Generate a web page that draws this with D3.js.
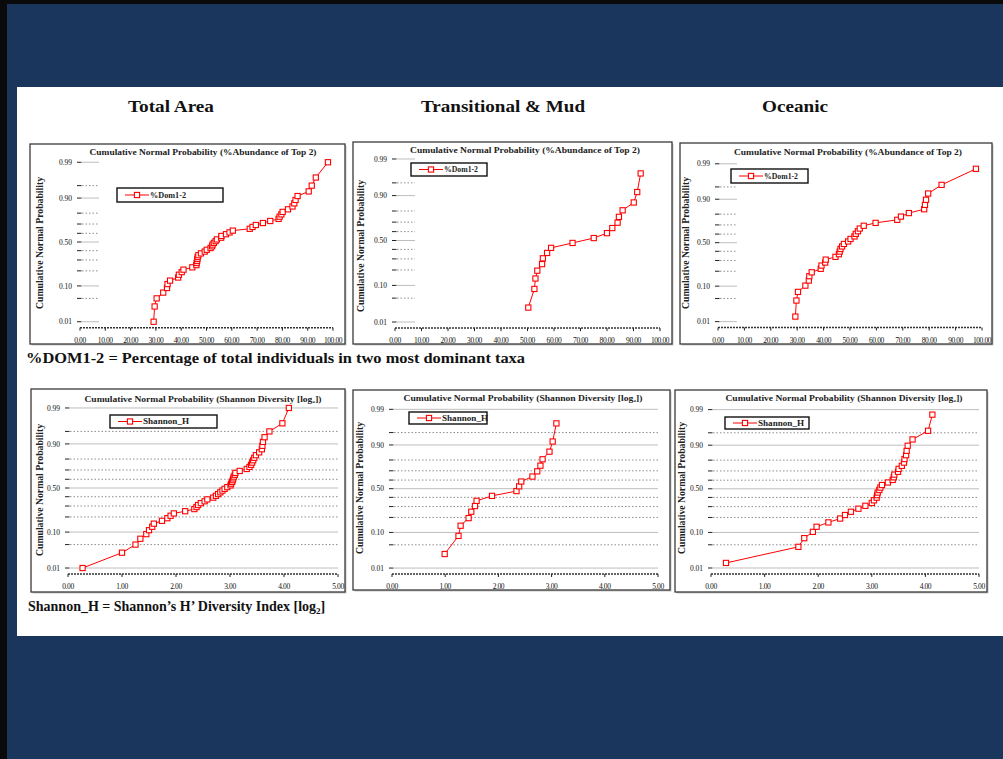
<html>
<head>
<meta charset="utf-8">
<script src="https://cdn.jsdelivr.net/npm/d3@7"></script>
<style>
  body { margin: 0; background: #1b365d; }
  svg { display: block; }
  text { font-family: "Liberation Serif", "Times New Roman", serif; }
</style>
<script>

// probability levels on the y axis
const probMajor = [0.01, 0.10, 0.50, 0.90, 0.99];
const probMinor = [0.05, 0.20, 0.30, 0.40, 0.60, 0.70, 0.80, 0.95];
const probLabels = ['0.01', '0.10', '0.50', '0.90', '0.99'];

// x ticks
const domTicks = [0, 10, 20, 30, 40, 50, 60, 70, 80, 90, 100];
const shanTicks = [0, 1, 2, 3, 4, 5];

const headings = ['Total Area', 'Transitional & Mud', 'Oceanic'];

// plotting positions
const prob50 = [0.01, 0.03, 0.05, 0.07, 0.09, 0.11, 0.13, 0.15, 0.17, 0.19,
  0.21, 0.23, 0.25, 0.27, 0.29, 0.31, 0.33, 0.35, 0.37, 0.39,
  0.41, 0.43, 0.45, 0.47, 0.49, 0.51, 0.53, 0.55, 0.57, 0.59,
  0.61, 0.63, 0.65, 0.67, 0.69, 0.71, 0.73, 0.75, 0.77, 0.79,
  0.81, 0.83, 0.85, 0.87, 0.89, 0.91, 0.93, 0.95, 0.97, 0.99];
const prob18 = [0.0278, 0.0833, 0.1389, 0.1944, 0.25, 0.3056, 0.3611, 0.4167, 0.4722,
  0.5278, 0.5833, 0.6389, 0.6944, 0.75, 0.8056, 0.8611, 0.9167, 0.9722];
const prob34 = [0.0147, 0.0441, 0.0735, 0.1029, 0.1324, 0.1618, 0.1912, 0.2206, 0.25,
  0.2794, 0.3088, 0.3382, 0.3676, 0.3971, 0.4265, 0.4559, 0.4853, 0.5147, 0.5441,
  0.5735, 0.6029, 0.6324, 0.6618, 0.6912, 0.7206, 0.75, 0.7794, 0.8088, 0.8382,
  0.8676, 0.8971, 0.9265, 0.9559, 0.9853];

// %Dom1-2 values
const totalDom = [29.1, 29.5, 30.3, 32.9, 34.4, 34.6, 35.6, 38.8, 39.1, 40.2,
  40.9, 44.4, 46.0, 46.1, 46.3, 46.4, 46.5, 46.8, 47.8, 49.3,
  50.1, 51.6, 52.2, 52.4, 52.9, 53.6, 54.1, 55.8, 55.9, 57.7,
  59.1, 60.4, 67.1, 68.2, 69.5, 72.3, 75.2, 78.5, 78.9, 79.6,
  80.1, 82.2, 84.0, 84.7, 85.2, 86.0, 90.4, 91.6, 93.2, 98.0];
const transDom = [50.3, 52.6, 53.0, 53.7, 55.5, 55.8, 57.4, 58.9, 67.0,
  75.0, 80.0, 82.0, 84.0, 84.5, 85.9, 90.1, 91.4, 92.7];
const oceanDom = [29.3, 29.7, 30.3, 33.1, 34.4, 34.6, 35.5, 38.9, 39.2, 40.6,
  40.8, 44.5, 45.8, 46.1, 46.4, 47.0, 47.7, 49.3, 50.2, 51.7,
  52.2, 53.0, 53.7, 55.2, 59.7, 67.9, 69.3, 72.3, 78.1, 78.4,
  78.8, 79.6, 84.7, 97.7];

// Shannon_H values
const totalShan = [0.27, 1.00, 1.25, 1.34, 1.45, 1.50, 1.56, 1.59, 1.74, 1.84,
  1.90, 1.96, 2.17, 2.34, 2.38, 2.41, 2.46, 2.53, 2.58, 2.69,
  2.74, 2.78, 2.82, 2.86, 2.90, 2.95, 3.01, 3.02, 3.04, 3.05,
  3.06, 3.07, 3.09, 3.10, 3.18, 3.31, 3.36, 3.39, 3.41, 3.43,
  3.45, 3.48, 3.54, 3.59, 3.60, 3.61, 3.64, 3.73, 3.97, 4.09];
const transShan = [0.99, 1.25, 1.29, 1.44, 1.49, 1.56, 1.59, 1.88, 2.34,
  2.39, 2.43, 2.64, 2.73, 2.79, 2.83, 2.96, 3.02, 3.09];
const oceanShan = [0.28, 1.63, 1.74, 1.90, 1.97, 2.19, 2.41, 2.50, 2.61, 2.75,
  2.88, 3.00, 3.04, 3.09, 3.10, 3.11, 3.14, 3.16, 3.19, 3.30,
  3.39, 3.41, 3.42, 3.49, 3.50, 3.56, 3.60, 3.61, 3.64, 3.65,
  3.67, 3.76, 4.05, 4.13];

// inverse normal cdf (Acklam)
function probit(p) {
  const a = [-39.69683028665376, 220.9460984245205, -275.9285104469687, 138.3577518672690, -30.66479806614716, 2.506628277459239];
  const b = [-54.47609879822406, 161.5858368580409, -155.6989798598866, 66.80131188771972, -13.28068155288572];
  const c = [-0.007784894002430293, -0.3223964580411365, -2.400758277161838, -2.549732539343734, 4.374664141464968, 2.938163982698783];
  const d = [0.007784695709041462, 0.3224671290700398, 2.445134137142996, 3.754408661907416];
  const pl = 0.02425;
  let q, r;
  if (p < pl) {
    q = Math.sqrt(-2 * Math.log(p));
    return (((((c[0]*q+c[1])*q+c[2])*q+c[3])*q+c[4])*q+c[5]) / ((((d[0]*q+d[1])*q+d[2])*q+d[3])*q+1);
  }
  if (p > 1 - pl) {
    q = Math.sqrt(-2 * Math.log(1 - p));
    return -(((((c[0]*q+c[1])*q+c[2])*q+c[3])*q+c[4])*q+c[5]) / ((((d[0]*q+d[1])*q+d[2])*q+d[3])*q+1);
  }
  q = p - 0.5; r = q * q;
  return (((((a[0]*r+a[1])*r+a[2])*r+a[3])*r+a[4])*r+a[5])*q / (((((b[0]*r+b[1])*r+b[2])*r+b[3])*r+b[4])*r+1);
}

const domTitle = 'Cumulative Normal Probability (%Abundance of Top 2)';
const shanTitle = 'Cumulative Normal Probability (Shannon Diversity [log\u2082])';

const panels = [
  {xs: totalDom, ps: prob50, ticks: domTicks, fmt: d3.format('.2f'), title: domTitle, titleX: 203, titleY: 155, titleW: 227,
   frame: [30, 144, 345, 344], xr: [80, 333], yr: [327.7, 156.3], grid: 19, yl: [43, 243],
   leg: [117, 188, 223, 202], name: '%Dom1-2', nameW: 36},
  {xs: transDom, ps: prob18, ticks: domTicks, fmt: d3.format('.2f'), title: domTitle, titleX: 525, titleY: 153, titleW: 230,
   frame: [353, 142, 672, 344], xr: [395, 660], yr: [328.1, 152.9], grid: 20, yl: [364, 246],
   leg: [411, 163, 487, 176], name: '%Dom1-2', nameW: 34},
  {xs: oceanDom, ps: prob34, ticks: domTicks, fmt: d3.format('.2f'), title: domTitle, titleX: 848, titleY: 155, titleW: 228,
   frame: [680, 143, 992, 344], xr: [718, 982], yr: [327.5, 157.9], grid: 19, yl: [689, 243],
   leg: [731, 169, 808, 183], name: '%Dom1-2', nameW: 34},
  {xs: totalShan, ps: prob50, ticks: shanTicks, fmt: d3.format('.2f'), title: shanTitle, titleX: 203, titleY: 402, titleW: 237,
   frame: [31, 389, 345, 592], xr: [68, 338], yr: [574, 402], grid: null, yl: [43, 490],
   leg: [110, 415, 217, 428], name: 'Shannon_H', nameW: 46},
  {xs: transShan, ps: prob18, ticks: shanTicks, fmt: d3.format('.2f'), title: shanTitle, titleX: 523, titleY: 401, titleW: 239,
   frame: [353, 390, 670, 590], xr: [392, 658], yr: [574, 403.4], grid: null, yl: [363, 488],
   leg: [409, 412, 487, 424], name: 'Shannon_H', nameW: 46},
  {xs: oceanShan, ps: prob34, ticks: shanTicks, fmt: d3.format('.2f'), title: shanTitle, titleX: 844, titleY: 401, titleW: 237,
   frame: [675, 390, 987, 592], xr: [711, 979], yr: [573.9, 403.7], grid: null, yl: [685, 488],
   leg: [725, 417, 809, 429], name: 'Shannon_H', nameW: 46}
];

function drawPanel(svg, c) {
  const g = svg.append('g');
  const x = d3.scaleLinear().domain([c.ticks[0], c.ticks[c.ticks.length - 1]]).range(c.xr);
  const z = d3.scaleLinear().domain([-2.5, 2.5]).range(c.yr);
  const y = p => z(probit(p));
  const [fx0, fy0, fx1, fy1] = c.frame;

  g.append('rect').attr('x', fx0 + 1.5).attr('y', fy0 + 1.5).attr('width', fx1 - fx0).attr('height', fy1 - fy0)
    .attr('fill', '#c8c8c8');
  g.append('rect').attr('x', fx0).attr('y', fy0).attr('width', fx1 - fx0).attr('height', fy1 - fy0)
    .attr('fill', '#fff').attr('stroke', '#3a3a3a').attr('stroke-width', 1.3);

  g.append('text').attr('x', c.titleX).attr('y', c.titleY).attr('text-anchor', 'middle')
    .attr('font-size', 7.5).attr('font-weight', 'bold').attr('fill', '#222')
    .attr('textLength', c.titleW).attr('lengthAdjust', 'spacingAndGlyphs').text(c.title);

  const gx0 = c.xr[0], gx1 = c.grid ? c.xr[0] + c.grid : c.xr[1];

  // gridlines
  g.selectAll('.minor').data(probMinor).join('line')
    .attr('x1', gx0 + 2).attr('x2', gx1).attr('y1', d => y(d)).attr('y2', d => y(d))
    .attr('stroke', '#8e8e8e').attr('stroke-width', 1).attr('stroke-dasharray', '1.5,2');
  g.selectAll('.major').data(probMajor).join('line')
    .attr('x1', gx0 + 2).attr('x2', gx1).attr('y1', d => y(d)).attr('y2', d => y(d))
    .attr('stroke', '#bdbdbd').attr('stroke-width', 1);

  // y ticks
  g.selectAll('.ytick').data(probMajor.concat(probMinor)).join('line')
    .attr('x1', gx0 - 3).attr('x2', gx0 + 1.5).attr('y1', d => y(d)).attr('y2', d => y(d))
    .attr('stroke', '#222').attr('stroke-width', 1);
  g.selectAll('.ylab').data(probMajor).join('text')
    .attr('x', gx0 - 8).attr('y', d => y(d) + 2.6).attr('text-anchor', 'end')
    .attr('font-size', 7.5).attr('fill', '#111').text((d, i) => probLabels[i]);

  // x axis
  const yb = c.yr[0];
  g.append('line').attr('x1', c.xr[0]).attr('x2', c.xr[1]).attr('y1', yb).attr('y2', yb)
    .attr('stroke', '#333').attr('stroke-width', 1.5).attr('stroke-dasharray', '2,1');
  g.selectAll('.xtick').data(c.ticks).join('line')
    .attr('x1', d => x(d)).attr('x2', d => x(d)).attr('y1', yb).attr('y2', yb + 3)
    .attr('stroke', '#222').attr('stroke-width', 1);
  g.selectAll('.xlab').data(c.ticks).join('text')
    .attr('x', d => x(d)).attr('y', yb + 15).attr('text-anchor', 'middle')
    .attr('font-size', 7.5).attr('fill', '#111').attr('letter-spacing', -0.4).text(d => c.fmt(d));

  // y axis title
  g.append('text').attr('transform', `translate(${c.yl[0]},${c.yl[1]}) rotate(-90)`)
    .attr('text-anchor', 'middle').attr('font-size', 9.5).attr('font-weight', 'bold').attr('fill', '#222')
    .attr('textLength', 132).attr('lengthAdjust', 'spacingAndGlyphs')
    .text('Cumulative Normal Probability');

  // series
  const pts = c.xs.map((v, i) => [x(v), y(c.ps[i])]);
  g.append('path').attr('d', d3.line()(pts)).attr('fill', 'none')
    .attr('stroke', '#ff0000').attr('stroke-width', 1);
  g.selectAll('.pt').data(pts).join('rect')
    .attr('x', d => d[0] - 2.6).attr('y', d => d[1] - 2.6).attr('width', 5.2).attr('height', 5.2)
    .attr('fill', '#fff').attr('stroke', '#ff0000').attr('stroke-width', 1.1);

  // legend
  const [lx0, ly0, lx1, ly1] = c.leg;
  const lm = (ly0 + ly1) / 2;
  g.append('rect').attr('x', lx0).attr('y', ly0).attr('width', lx1 - lx0).attr('height', ly1 - ly0)
    .attr('fill', '#fff').attr('stroke', '#111').attr('stroke-width', 1.4);
  const ll0 = lx0 + 8, ll1 = lx0 + 32;
  g.append('line').attr('x1', ll0).attr('x2', ll1).attr('y1', lm).attr('y2', lm)
    .attr('stroke', '#ff0000').attr('stroke-width', 1);
  g.append('rect').attr('x', (ll0 + ll1) / 2 - 2.6).attr('y', lm - 2.6).attr('width', 5.2).attr('height', 5.2)
    .attr('fill', '#fff').attr('stroke', '#ff0000').attr('stroke-width', 1.1);
  g.append('text').attr('x', ll1 + 1).attr('y', lm + 2.7).attr('font-size', 8).attr('font-weight', 'bold')
    .attr('fill', '#222').attr('textLength', c.nameW).attr('lengthAdjust', 'spacingAndGlyphs').text(c.name);
}

function start() {
  const svg = d3.select('body').append('svg').attr('width', 1003).attr('height', 759);
  svg.append('rect').attr('width', 1003).attr('height', 759).attr('fill', '#1b365d');
  svg.append('rect').attr('width', 1003).attr('height', 4).attr('fill', '#0a0a0a');
  svg.append('rect').attr('width', 7).attr('height', 759).attr('fill', '#0a0a0a');
  svg.append('rect').attr('x', 17).attr('y', 87).attr('width', 986).attr('height', 549).attr('fill', '#fff');

  const hx = [171, 503, 795], hw = [86, 164, 66];
  svg.selectAll('.head').data(headings).join('text')
    .attr('x', (d, i) => hx[i]).attr('y', 112).attr('text-anchor', 'middle')
    .attr('font-size', 17).attr('font-weight', 'bold').attr('fill', '#111')
    .attr('textLength', (d, i) => hw[i]).attr('lengthAdjust', 'spacingAndGlyphs').text(d => d);

  panels.forEach(c => drawPanel(svg, c));

  svg.append('text').attr('x', 26).attr('y', 363).attr('font-size', 14).attr('font-weight', 'bold')
    .attr('fill', '#111').attr('textLength', 499).attr('lengthAdjust', 'spacingAndGlyphs')
    .text('%DOM1-2 = Percentage of total individuals in two most dominant taxa');

  const cap = svg.append('text').attr('x', 28).attr('y', 611).attr('font-size', 14).attr('font-weight', 'bold')
    .attr('fill', '#111');
  cap.append('tspan').text('Shannon_H = Shannon\u2019s H\u2019 Diversity Index [log');
  cap.append('tspan').attr('font-size', 9).attr('dy', 3).text('2');
  cap.append('tspan').attr('dy', -3).text(']');
}

document.addEventListener('DOMContentLoaded', () => start());
</script>
</head>
<body>
</body>
</html>
